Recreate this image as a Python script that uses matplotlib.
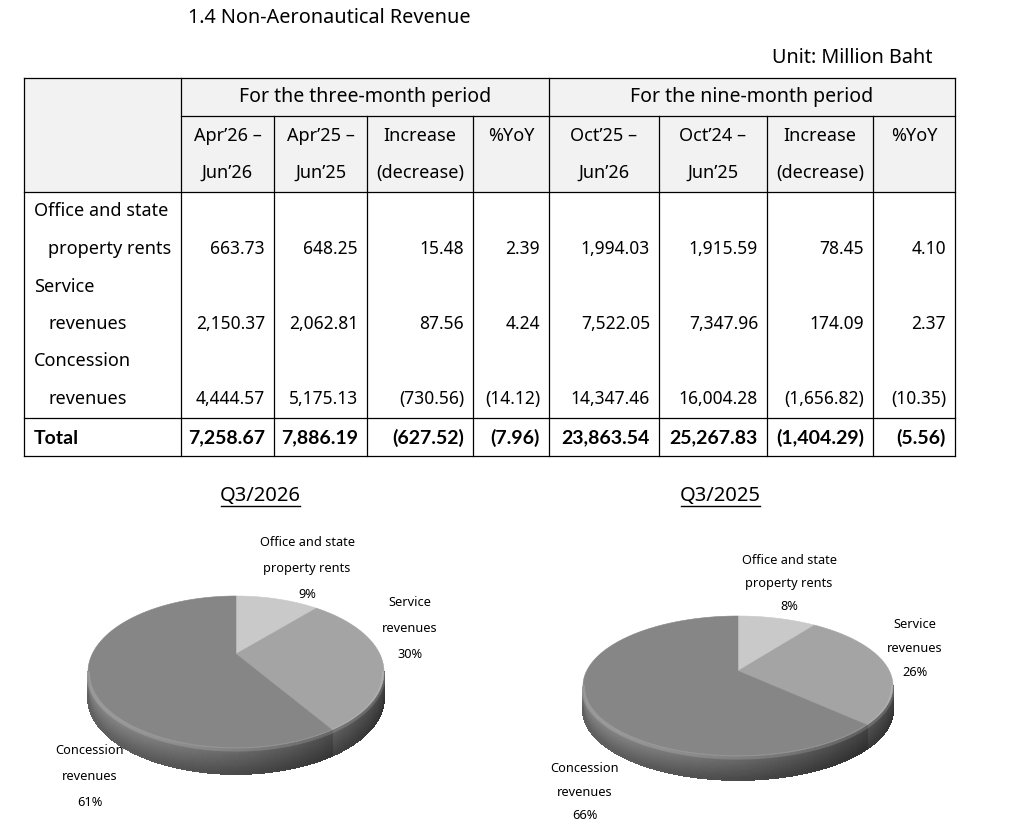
import numpy as np
import matplotlib.pyplot as plt
from matplotlib.collections import PolyCollection
from matplotlib.patches import Rectangle, Polygon

plt.rcParams['font.family'] = ['Noto Sans', 'DejaVu Sans']

# ---- data (Million Baht) ----
row_labels = [['Office and state', 'property rents'],
              ['Service', 'revenues'],
              ['Concession', 'revenues']]
q3_26  = [663.73, 2150.37, 4444.57]
q3_25  = [648.25, 2062.81, 5175.13]
q_diff = [15.48, 87.56, -730.56]
q_yoy  = [2.39, 4.24, -14.12]
m9_26  = [1994.03, 7522.05, 14347.46]
m9_25  = [1915.59, 7347.96, 16004.28]
m_diff = [78.45, 174.09, -1656.82]
m_yoy  = [4.10, 2.37, -10.35]
total_row = [7258.67, 7886.19, -627.52, -7.96, 23863.54, 25267.83, -1404.29, -5.56]

group_heads = ['For the three-month period', 'For the nine-month period']
col_heads = [['Apr\u201926 \u2013', 'Jun\u201926'], ['Apr\u201925 \u2013', 'Jun\u201925'],
             ['Increase', '(decrease)'], ['%YoY', ''],
             ['Oct\u201925 \u2013', 'Jun\u201926'], ['Oct\u201924 \u2013', 'Jun\u201925'],
             ['Increase', '(decrease)'], ['%YoY', '']]
pie_labels = ['Office and state\nproperty rents', 'Service\nrevenues', 'Concession\nrevenues']
pie_titles = ['Q3/2026', 'Q3/2025']
pie_colors = ['#c9c9c9', '#a4a4a4', '#868686']


def fmt(v):
    s = '{:,.2f}'.format(abs(v))
    return '(' + s + ')' if v < 0 else s


fig = plt.figure(figsize=(10.35, 8.37), dpi=100)
ax = fig.add_axes([0, 0, 1, 1])
ax.set_xlim(0, 1035)
ax.set_ylim(837, 0)
ax.axis('off')

FS_TXT = 13.0
FS_NUM = 12.5
BOLD = dict(family=['Lato', 'DejaVu Sans'], fontweight='bold', fontsize=14)

ax.text(188, 18, '1.4 Non-Aeronautical Revenue', fontsize=14.3, va='center')
ax.text(932, 58, 'Unit: Million Baht', fontsize=14.3, va='center', ha='right')

#--------------------------------------------------------------------------------------------------------------------------
# table

xs = [24, 181, 274, 367, 473, 549, 659, 767, 873, 955]
y_top, y_grp, y_head, y_tot, y_bot = 79, 117, 193, 419, 457

ax.add_patch(Rectangle((xs[0], y_top), xs[-1]-xs[0], y_head-y_top, color='#f2f2f2', lw=0, zorder=0))

lw = 0.9
for y, x0 in [(y_top, xs[0]), (y_grp, xs[1]), (y_head, xs[0]), (y_tot, xs[0]), (y_bot, xs[0])]:
    ax.plot([x0, xs[-1]], [y, y], color='black', lw=lw)
for i, x in enumerate(xs):
    y0 = y_top if i in (0, 1, 5, 9) else y_grp
    ax.plot([x, x], [y0, y_bot], color='black', lw=lw)

ax.text((xs[1]+xs[5])/2, 97, group_heads[0], fontsize=14, ha='center', va='center')
ax.text((xs[5]+xs[9])/2, 97, group_heads[1], fontsize=14, ha='center', va='center')
for j, (l1, l2) in enumerate(col_heads):
    xc = (xs[j+1]+xs[j+2])/2
    ax.text(xc, 136, l1, fontsize=FS_TXT, ha='center', va='center')
    if l2:
        ax.text(xc, 173, l2, fontsize=FS_TXT, ha='center', va='center')

cols = [q3_26, q3_25, q_diff, q_yoy, m9_26, m9_25, m_diff, m_yoy]
row_y = [(211, 249), (287, 324), (361, 399)]
for i, (lab, (ya, yb)) in enumerate(zip(row_labels, row_y)):
    ax.text(34, ya, lab[0], fontsize=FS_TXT, va='center')
    ax.text(48, yb, lab[1], fontsize=FS_TXT, va='center')
    for j, c in enumerate(cols):
        ax.text(xs[j+2]-9, yb, fmt(c[i]), fontsize=FS_NUM, ha='right', va='center')

ax.text(34, 438, 'Total', va='center', **BOLD)
for j, v in enumerate(total_row):
    ax.text(xs[j+2]-9, 438, fmt(v), ha='right', va='center', **BOLD)

#--------------------------------------------------------------------------------------------------------------------------
# 3d-looking pies


def shade(c, f):
    rgb = np.array(plt.matplotlib.colors.to_rgb(c))
    return tuple(np.clip(rgb*f, 0, 1))


def pie3d(vals, cx, cy, rx, ry, depth, apex_dy):
    frac = np.cumsum([0] + list(vals)) / np.sum(vals)
    ang = 90 - 360*frac
    polys, fcs = [], []
    bands = np.linspace(1.15, 0.78, 14)
    for i in range(len(vals)):
        th = np.linspace(ang[i], ang[i+1], 160)
        for t0, t1 in zip(th[:-1], th[1:]):
            tm = np.radians((t0+t1)/2)
            if np.sin(tm) >= 0:
                continue
            u = np.degrees(tm) % 360
            f = 0.64 + 0.28*np.cos(np.radians(u - 195))
            xa, xb = cx + rx*np.cos(np.radians(t0)), cx + rx*np.cos(np.radians(t1))
            ya, yb = cy - ry*np.sin(np.radians(t0)), cy - ry*np.sin(np.radians(t1))
            for k, bf in enumerate(bands):
                d0, d1 = depth*k/len(bands), depth*(k+1)/len(bands)
                polys.append([(xa, ya+d0), (xb, yb+d0), (xb, yb+d1), (xa, ya+d1)])
                fcs.append(shade(pie_colors[i], f*bf))
    ax.add_collection(PolyCollection(polys, facecolors=fcs, edgecolors=fcs,
                                     linewidths=0.6, antialiased=False, zorder=2))
    # top face
    for i in range(len(vals)):
        th = np.radians(np.linspace(ang[i], ang[i+1], 200))
        pts = [(cx, cy+apex_dy)] + list(zip(cx + rx*np.cos(th), cy - ry*np.sin(th)))
        ax.add_patch(Polygon(pts, closed=True, facecolor=pie_colors[i],
                             edgecolor=pie_colors[i], lw=0.4, zorder=3))
    # rim highlight along the front edge
    th = np.radians(np.linspace(180, 360, 200))
    ax.plot(cx + rx*np.cos(th), cy - ry*np.sin(th) + 1.5, color='white', alpha=0.15, lw=3, zorder=4)


def pie_texts(vals, pos, step):
    tot = np.sum(vals)
    for lab, v, (x, y) in zip(pie_labels, vals, pos):
        l1, l2 = lab.split('\n')
        ax.text(x, y, l1, fontsize=9.2, ha='center', va='center')
        ax.text(x, y+step, l2, fontsize=9.2, ha='center', va='center')
        ax.text(x, y+2*step, '{:.0f}%'.format(100*v/tot), fontsize=9.2, ha='center', va='center')


pie3d(q3_26, 236, 673, 148, 76, 26, -18)
pie3d(q3_25, 738, 687, 155, 70, 24, -15)
pie_texts(q3_26, [(307, 542), (410, 602), (90, 750)], 26.5)
pie_texts(q3_25, [(789, 560), (915, 625), (585, 769)], 23.5)

titles = [ax.text(260, 496, pie_titles[0], fontsize=14.5, ha='center', va='center'),
          ax.text(720, 496, pie_titles[1], fontsize=14.5, ha='center', va='center')]
fig.canvas.draw()
inv = ax.transData.inverted()
for t in titles:
    bb = t.get_window_extent()
    (x0, y0), (x1, y1) = inv.transform([(bb.x0, bb.y0), (bb.x1, bb.y1)])
    ax.plot([x0+1, x1-1], [507, 507], color='black', lw=1.0)

plt.savefig('out.png', dpi=100)
